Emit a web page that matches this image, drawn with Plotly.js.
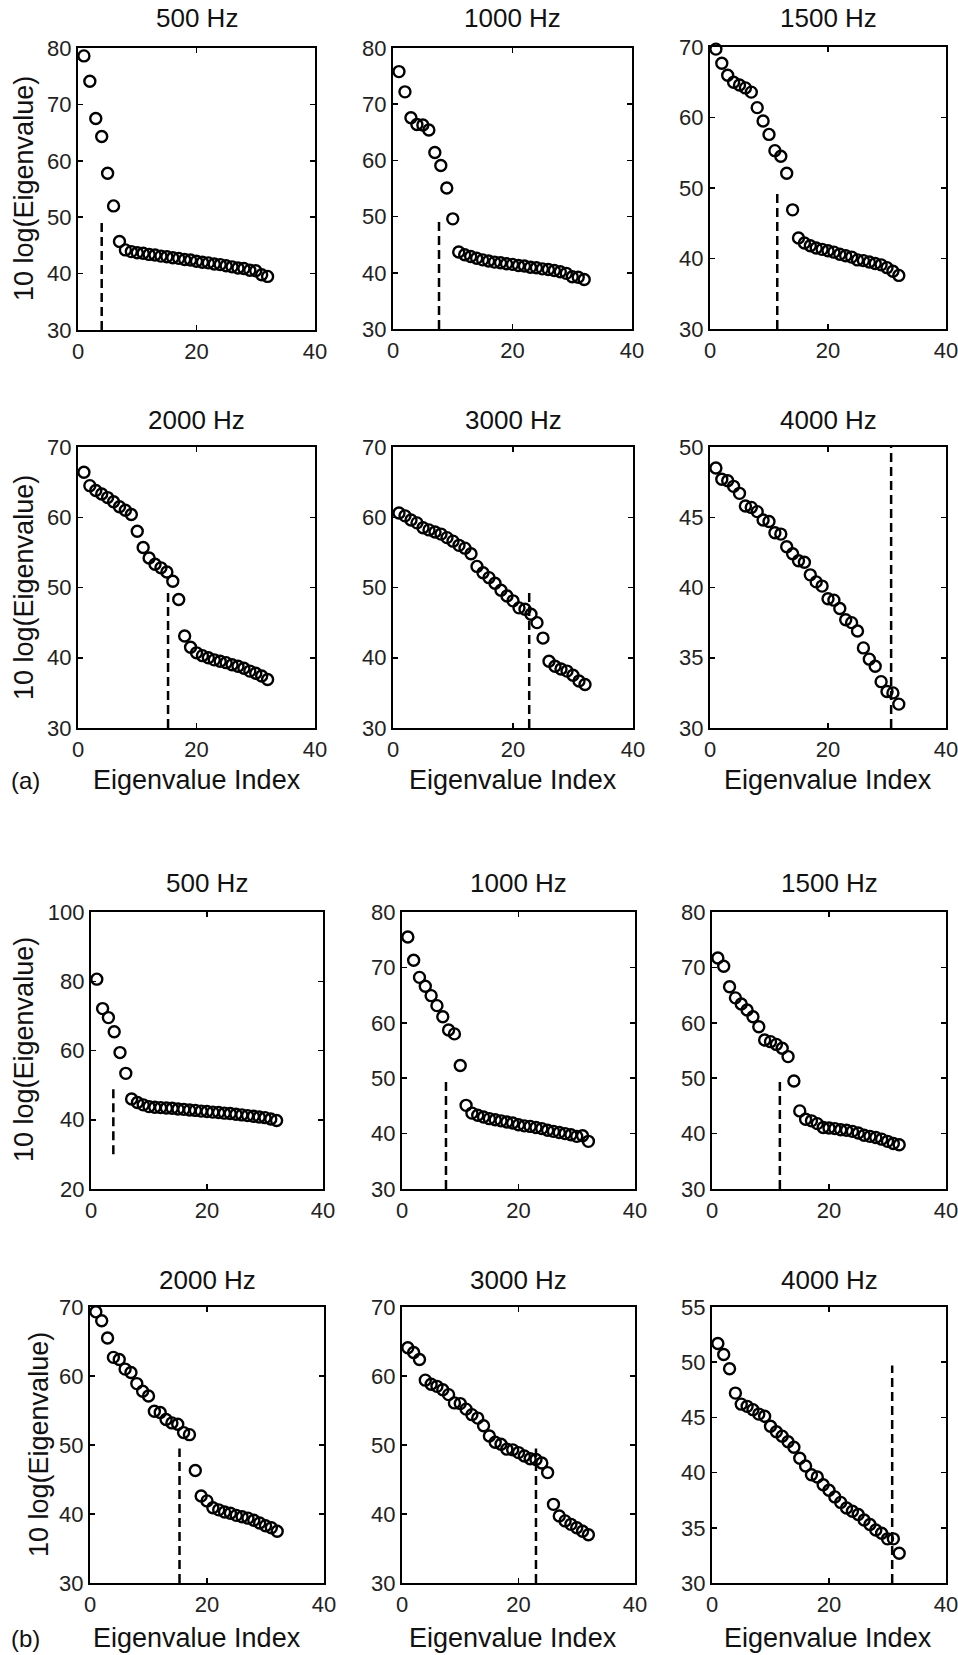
<!DOCTYPE html>
<html><head><meta charset="utf-8">
<script src="https://cdn.plot.ly/plotly-3.0.1.min.js"></script>
<style>html,body{margin:0;padding:0;background:#fff}#chart{width:958px;height:1655px}</style>
</head><body><div id="chart"></div>
<script>
// ---------- data ----------
const eigIndex = [1,2,3,4,5,6,7,8,9,10,11,12,13,14,15,16,17,18,19,20,21,22,23,24,25,26,27,28,29,30,31,32];
const freqLabels = ['500 Hz','1000 Hz','1500 Hz','2000 Hz','3000 Hz','4000 Hz'];

const a500  = [78.6,74.1,67.5,64.3,57.8,52.0,45.7,44.2,43.9,43.7,43.6,43.4,43.3,43.1,43.0,42.8,42.7,42.5,42.4,42.2,42.0,41.9,41.7,41.6,41.4,41.2,41.0,40.9,40.6,40.5,39.8,39.5];
const a1000 = [75.8,72.2,67.6,66.4,66.3,65.4,61.4,59.1,55.1,49.6,43.7,43.2,42.9,42.6,42.3,42.1,41.9,41.8,41.6,41.5,41.3,41.2,41.0,40.9,40.7,40.6,40.4,40.2,39.9,39.3,39.2,38.8];
const a1500 = [69.7,67.7,66.0,65.0,64.6,64.2,63.6,61.4,59.5,57.6,55.3,54.5,52.1,46.9,42.9,42.2,41.8,41.5,41.3,41.1,40.9,40.6,40.4,40.2,39.8,39.7,39.5,39.3,39.1,38.7,38.2,37.6];
const a2000 = [66.4,64.5,63.8,63.3,62.8,62.2,61.5,61.0,60.4,58.0,55.7,54.2,53.3,52.8,52.2,50.9,48.3,43.1,41.5,40.7,40.3,40.0,39.7,39.5,39.3,39.0,38.8,38.5,38.1,37.8,37.4,36.9];
const a3000 = [60.6,60.2,59.6,59.2,58.5,58.2,57.9,57.6,57.1,56.6,56.0,55.6,54.8,53.0,52.1,51.4,50.6,49.6,48.8,48.1,47.1,46.9,46.2,45.0,42.8,39.5,38.8,38.4,38.1,37.5,36.7,36.2];
const a4000 = [48.5,47.7,47.6,47.2,46.7,45.8,45.7,45.4,44.8,44.7,43.9,43.8,42.9,42.4,41.9,41.8,40.9,40.4,40.1,39.2,39.1,38.5,37.7,37.5,36.9,35.7,34.9,34.4,33.3,32.6,32.5,31.7];

const b500  = [80.6,72.1,69.5,65.4,59.4,53.4,46.0,45.0,44.3,43.8,43.6,43.5,43.4,43.3,43.1,43.0,42.8,42.7,42.5,42.4,42.2,42.1,41.9,41.8,41.6,41.4,41.2,41.0,40.8,40.6,40.2,39.8];
const b1000 = [75.5,71.3,68.2,66.6,64.9,63.1,61.1,58.7,58.0,52.3,45.1,43.7,43.3,43.0,42.7,42.5,42.3,42.1,41.9,41.6,41.4,41.3,41.1,40.9,40.6,40.4,40.2,40.0,39.8,39.5,39.6,38.6];
const b1500 = [71.7,70.2,66.5,64.5,63.4,62.3,61.1,59.3,56.9,56.6,56.1,55.4,53.9,49.5,44.1,42.6,42.3,41.8,41.1,41.0,40.9,40.7,40.6,40.4,40.1,39.7,39.5,39.3,39.0,38.6,38.2,38.0];
const b2000 = [69.3,68.0,65.5,62.7,62.4,61.0,60.5,58.9,57.8,57.1,54.9,54.7,53.7,53.2,53.0,51.8,51.5,46.3,42.6,41.9,40.9,40.6,40.3,40.1,39.8,39.6,39.4,39.1,38.7,38.3,38.0,37.5];
const b3000 = [64.1,63.4,62.4,59.4,58.8,58.5,58.0,57.3,56.1,56.0,55.2,54.4,53.9,52.8,51.3,50.4,50.1,49.4,49.3,48.9,48.4,48.0,47.9,47.4,46.0,41.4,39.7,39.0,38.5,38.0,37.5,37.0];
const b4000 = [51.7,50.7,49.4,47.2,46.2,46.0,45.7,45.3,45.1,44.2,43.7,43.3,42.8,42.3,41.3,40.6,39.8,39.6,38.9,38.4,37.8,37.3,36.8,36.5,36.2,35.7,35.3,34.8,34.5,34.0,34.0,32.7];

// dashed cut-off lines (x position, bottom and top value)
const cutoffA = [4.0, 7.7, 11.4, 15.2, 22.7, 30.7];
const cutoffB = [3.85, 7.55, 11.6, 15.3, 23.0, 30.8];
const cutTopA = [49.5, 49.5, 49.5, 49.5, 49.5, 50];
const cutTopB = [49.5, 49.5, 49.5, 49.5, 49.5, 49.7];
const cutBottom = 30;

// y-axis ranges and tick steps
const yRangeA = [[30,80],[30,80],[30,70],[30,70],[30,70],[30,50]];
const yStepA  = [10,10,10,10,10,5];
const yRangeB = [[20,100],[30,80],[30,80],[30,70],[30,70],[30,55]];
const yStepB  = [20,10,10,10,10,5];
const xTicks = [0,20,40];

// ---------- layout geometry (pixels) ----------
const W = 958, H = 1655;
const boxes = [
  // [left, right, top, bottom]
  [78,315,48,330],[393,632,48,329],[710,946,47,329],
  [78,315,447,728],[393,633,447,728],[710,946,447,728],
  [91,323,912,1189],[402,635,912,1189],[712,946,912,1189],
  [90,324,1307,1583],[402,635,1307,1583],[712,946,1307,1583]
];
const titleY = [18,18,18,420,420,420,883,883,883,1280,1280,1280];

const FONT = 'Liberation Sans, Arial, Helvetica, sans-serif';
const series = [a500,a1000,a1500,a2000,a3000,a4000,b500,b1000,b1500,b2000,b3000,b4000];
const cuts = cutoffA.concat(cutoffB);
const cutTops = cutTopA.concat(cutTopB);
const yRanges = yRangeA.concat(yRangeB);
const ySteps = yStepA.concat(yStepB);

const traces = [];
const layout = {
  width: W, height: H,
  margin: {l:0,r:0,t:0,b:0},
  paper_bgcolor: '#fff', plot_bgcolor: '#fff',
  showlegend: false,
  font: {family: FONT, color: '#000', size: 22},
  annotations: []
};

for (let i = 0; i < 12; i++) {
  const n = i === 0 ? '' : String(i+1);
  const xa = 'x' + n, ya = 'y' + n;
  const [l, r, t, b] = boxes[i];
  traces.push({
    type: 'scatter', mode: 'markers', x: eigIndex, y: series[i],
    xaxis: xa, yaxis: ya, cliponaxis: false,
    marker: {symbol: 'circle-open', size: 11, color: '#000', line: {width: 2.4, color: '#000'}},
    hoverinfo: 'x+y'
  });
  traces.push({
    type: 'scatter', mode: 'lines', x: [cuts[i], cuts[i]], y: [cutBottom, cutTops[i]],
    xaxis: xa, yaxis: ya,
    line: {color: '#000', width: 2.5, dash: '9px,5px'}, hoverinfo: 'skip'
  });
  const [y0, y1] = yRanges[i];
  const yt = [];
  for (let v = y0; v <= y1 + 1e-9; v += ySteps[i]) yt.push(v);
  layout['xaxis' + n] = {
    domain: [l / W, r / W], anchor: ya, range: [0, 40],
    tickvals: xTicks, ticktext: xTicks.map(String),
    ticks: 'inside', ticklen: 5, tickwidth: 1.5, tickcolor: '#000',
    showline: true, linewidth: 2.2, linecolor: '#000', mirror: 'ticks',
    showgrid: false, zeroline: false, fixedrange: true,
    ticklabeloverflow: 'allow',
    tickfont: {family: FONT, size: 22, color: '#222'}
  };
  layout['yaxis' + n] = {
    domain: [1 - b / H, 1 - t / H], anchor: xa, range: [y0, y1],
    tickvals: yt, ticktext: yt.map(String),
    ticks: 'inside', ticklen: 5, tickwidth: 1.5, tickcolor: '#000',
    showline: true, linewidth: 2.2, linecolor: '#000', mirror: 'ticks',
    showgrid: false, zeroline: false, fixedrange: true,
    ticklabeloverflow: 'allow',
    tickfont: {family: FONT, size: 22, color: '#222'}
  };
  layout.annotations.push({
    xref: 'paper', yref: 'paper', x: ((l + r) / 2) / W, y: 1 - titleY[i] / H,
    text: freqLabels[i % 6], showarrow: false, xanchor: 'center', yanchor: 'middle',
    font: {family: FONT, size: 26, color: '#111'}
  });
}

// y-axis titles (left column)
const yTitleRows = [[189, 24], [588, 24], [1050, 24], [1445, 39]];
yTitleRows.forEach(([yc, xc]) => {
  layout.annotations.push({
    xref: 'paper', yref: 'paper', x: xc / W, y: 1 - yc / H,
    text: '10 log(Eigenvalue)', textangle: -90, showarrow: false,
    xanchor: 'center', yanchor: 'middle',
    font: {family: FONT, size: 27, color: '#111'}
  });
});

// x-axis titles (bottom rows of each group)
const xTitleY = [780, 1638];
xTitleY.forEach(yc => {
  [0, 1, 2].forEach(c => {
    const bx = boxes[c];
    layout.annotations.push({
      xref: 'paper', yref: 'paper', x: ((bx[0] + bx[1]) / 2) / W, y: 1 - yc / H,
      text: 'Eigenvalue Index', showarrow: false, xanchor: 'center', yanchor: 'middle',
      font: {family: FONT, size: 27, color: '#111'}
    });
  });
});
// group labels
[['(a)', 780], ['(b)', 1638]].forEach(([txt, yc]) => {
  layout.annotations.push({
    xref: 'paper', yref: 'paper', x: 25 / W, y: 1 - yc / H,
    text: txt, showarrow: false, xanchor: 'center', yanchor: 'middle',
    font: {family: FONT, size: 24, color: '#111'}
  });
});

Plotly.newPlot('chart', traces, layout, {staticPlot: true, displayModeBar: false});
</script>
</body></html>
